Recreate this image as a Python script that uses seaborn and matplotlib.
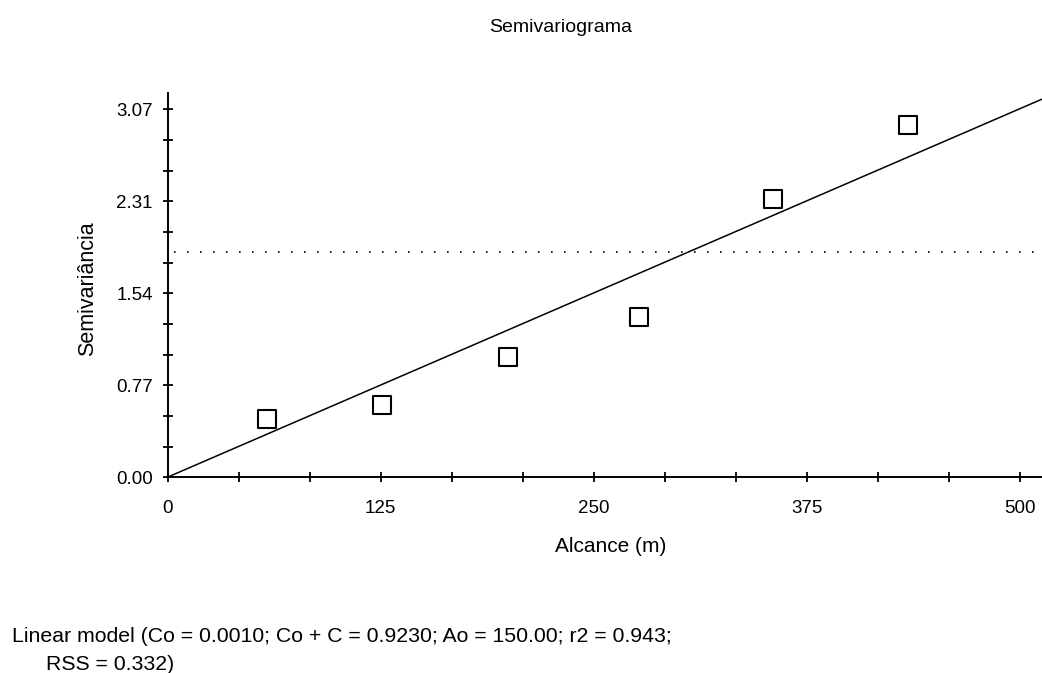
import numpy as np
import pandas as pd
import matplotlib
matplotlib.use("Agg")
import matplotlib.pyplot as plt
import seaborn as sns

# Experimental semivariogram (lag distance in m, semivariance)
lag_m = [58.5, 125.6, 199.9, 276.6, 355.3, 434.2]
semivariance = [0.484, 0.603, 1.001, 1.335, 2.322, 2.939]

# Fitted linear model parameters
nugget = 0.0010          # Co
sill = 0.9230            # Co + C
range_ao = 150.00        # Ao
r2 = 0.943
rss = 0.332

# Sample variance reference line
sample_variance = 1.882

# Axis ticks
y_ticks = [0.0, 0.7675, 1.535, 2.3025, 3.07]
y_tick_labels = ["0.00", "0.77", "1.54", "2.31", "3.07"]
x_ticks = [0, 125, 250, 375, 500]
x_tick_labels = ["0", "125", "250", "375", "500"]

sns.set_theme(style="white")
plt.rcParams["font.family"] = ["Liberation Sans", "DejaVu Sans"]

W, H = 1042, 673
ax_left, ax_bottom, ax_top = 167.5, 477.3, 92.7
fig = plt.figure(figsize=(W / 100, H / 100), dpi=100)
ax = fig.add_axes([ax_left / W, 1 - ax_bottom / H, 1 - ax_left / W, (ax_bottom - ax_top) / H])

x_max = 513.0
y_max = 3.208

# Linear model curve: gamma(h) = Co + (C / Ao) * h
h = np.linspace(0, x_max, 200)
model = pd.DataFrame({"h": h, "gamma": nugget + (sill - nugget) / range_ao * h})
sns.lineplot(data=model, x="h", y="gamma", ax=ax, color="black", linewidth=1.1)

# Sample variance (dotted)
ax.plot([4, 509], [sample_variance, sample_variance], color="black",
        linewidth=1.2, linestyle=(0, (1, 6.8)))

points = pd.DataFrame({"lag": lag_m, "gamma": semivariance})
sns.scatterplot(data=points, x="lag", y="gamma", ax=ax, marker="s", s=150,
                facecolor="white", edgecolor="black", linewidth=1.5, zorder=5)

ax.set_xlim(0, x_max)
ax.set_ylim(0, y_max)

ax.set_xticks(x_ticks)
ax.set_xticklabels(x_tick_labels)
ax.set_xticks(np.arange(0, x_max, 125 / 3), minor=True)
ax.set_yticks(y_ticks)
ax.set_yticklabels(y_tick_labels)
ax.set_yticks(np.arange(0, y_max, 3.07 / 12), minor=True)

ax.tick_params(which="both", direction="inout", length=7.2, width=1.3,
               colors="black", labelsize=13.5, left=True, bottom=True)
ax.tick_params(axis="x", pad=13)
ax.tick_params(axis="y", pad=7)

for side in ["top", "right"]:
    ax.spines[side].set_visible(False)
for side in ["left", "bottom"]:
    ax.spines[side].set_color("black")
    ax.spines[side].set_linewidth(1.4)

ax_w = W - ax_left
ax_h = ax_bottom - ax_top
ax.set_xlabel("Alcance (m)", fontsize=15, color="black")
ax.xaxis.set_label_coords((611 - ax_left) / ax_w, -(546 - ax_bottom) / ax_h)
ax.xaxis.label.set_va("center")
ax.set_ylabel("Semivariância", fontsize=15.5, color="black")
ax.yaxis.set_label_coords(-(ax_left - 88) / ax_w, (ax_bottom - 289) / ax_h)
ax.yaxis.label.set_va("center")

fig.text(561 / W, 1 - 27 / H, "Semivariograma", ha="center", va="center",
         fontsize=14, color="black")

fig.text(12 / W, 1 - 637 / H,
         f"Linear model (Co = {nugget:.4f}; Co + C = {sill:.4f}; Ao = {range_ao:.2f}; r2 = {r2:.3f};",
         ha="left", va="center", fontsize=15.3, color="black")
fig.text(46 / W, 1 - 664 / H, f"RSS = {rss:.3f})",
         ha="left", va="center", fontsize=15.3, color="black")

fig.savefig("out.png", dpi=100)
